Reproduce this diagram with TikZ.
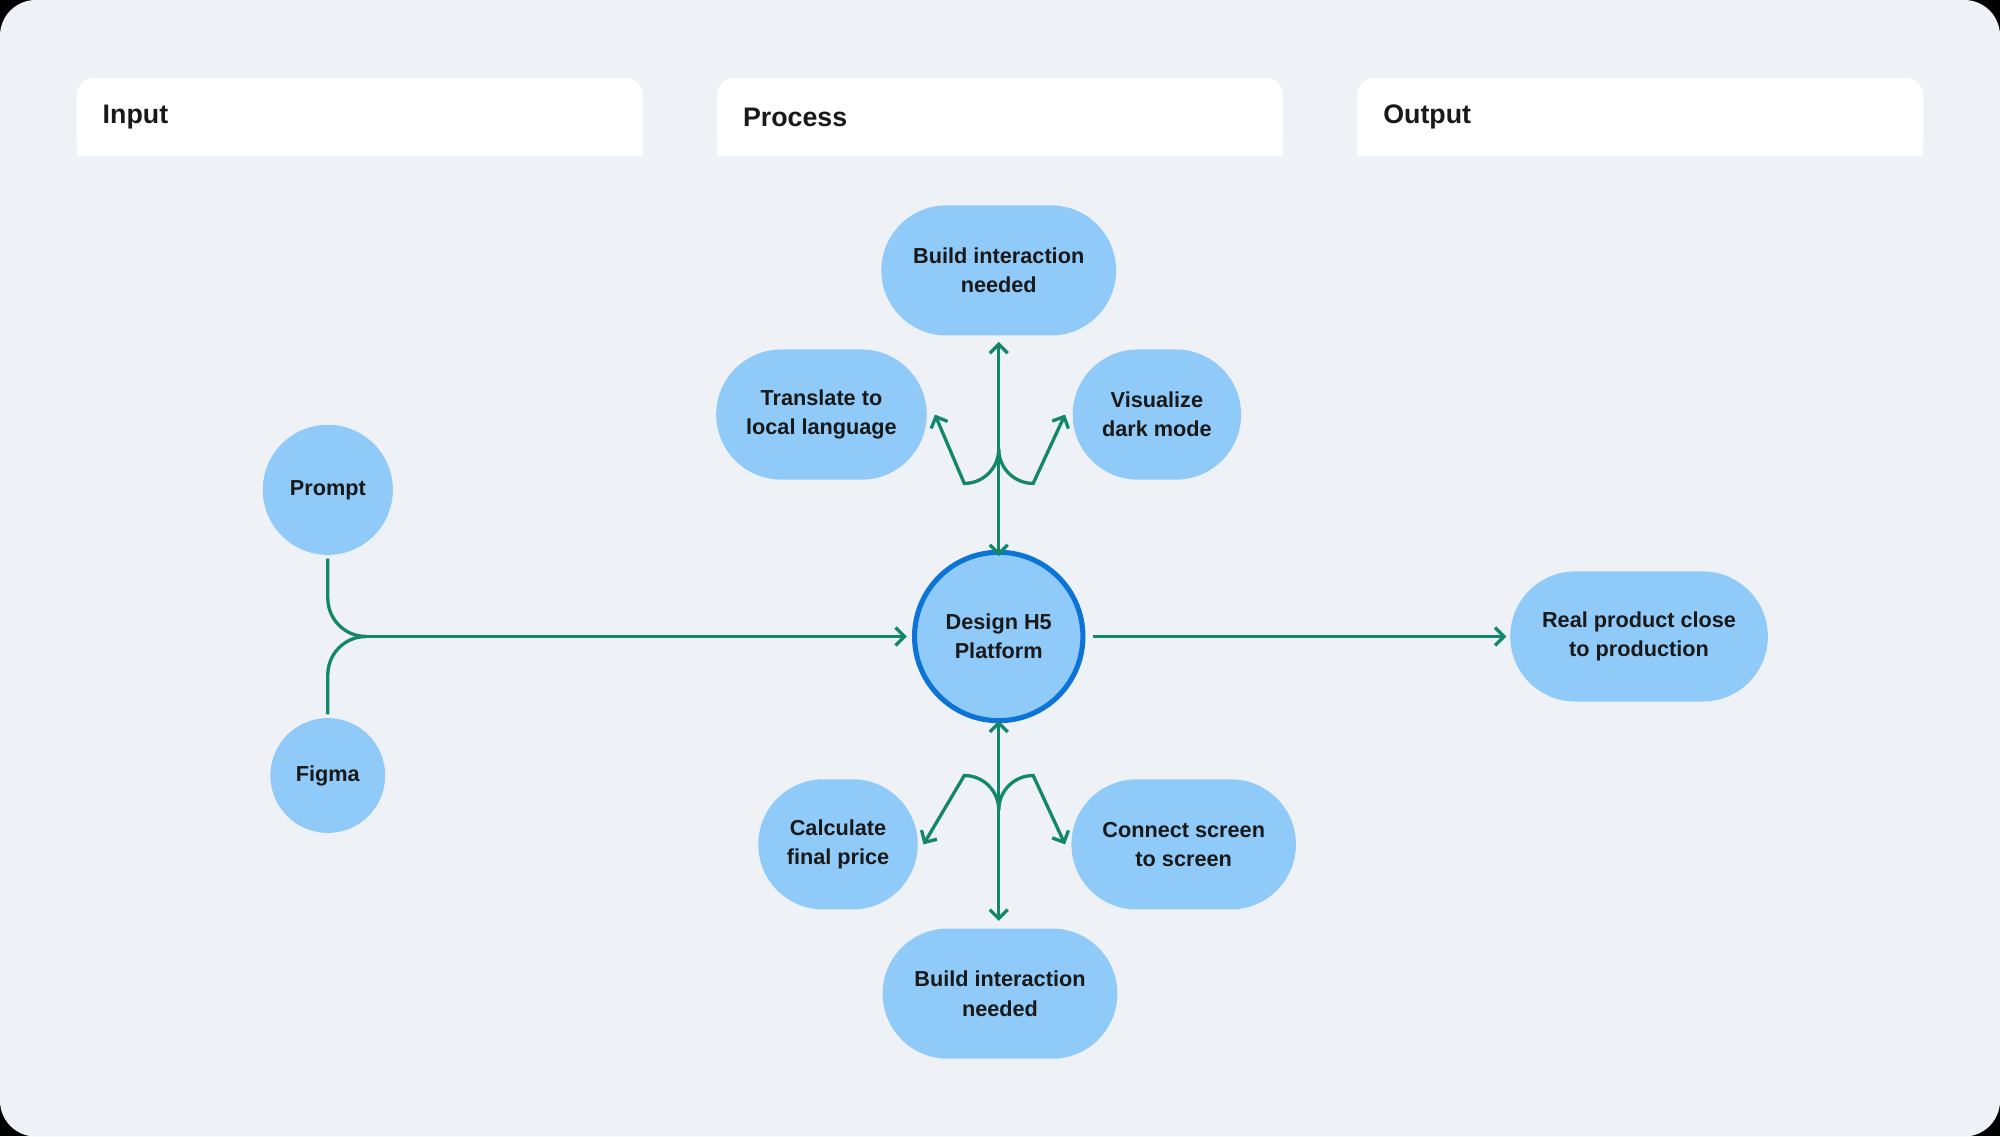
\documentclass[tikz,border=0pt]{standalone}
\usepackage{fontspec}
\setmainfont{Liberation Sans}
\usetikzlibrary{arrows.meta}
\definecolor{bg}{HTML}{EEF2F7}
\definecolor{pill}{HTML}{90CAF9}
\definecolor{grn}{HTML}{12876A}
\definecolor{ring}{HTML}{0B74D6}
\begin{document}
\begin{tikzpicture}[x=1pt,y=-1pt,
  pl/.style={fill=pill,draw=none,rounded corners=51pt,minimum height=102pt,align=center,font=\fontsize{17}{23}\selectfont\bfseries,text=black!90},
  cir/.style={fill=pill,circle,align=center,font=\fontsize{17}{23}\selectfont\bfseries,text=black!90,inner sep=0pt},
  hd/.style={fill=white,rounded corners=14pt},
  ht/.style={anchor=west,font=\fontsize{21}{25}\selectfont\bfseries,text=black!90},
  ar/.style={draw=grn,line width=2.6pt,-{Straight Barb[length=7pt,width=14pt,line width=2.6pt]}},
  ln/.style={draw=grn,line width=2.6pt}]
\useasboundingbox (0,0) rectangle (1568,891);
\fill[black] (0,0) rectangle (1568,891);
\fill[bg,rounded corners=28pt] (0,0) rectangle (1568,891);
\foreach \x/\t/\n in {60/Input/hi,562/Process/hp,1064/Output/ho}{
  \fill[hd] (\x,61) rectangle (\x+444,122);
  \fill[white] (\x,95) rectangle (\x+444,122);
  \node[ht] (\n) at (\x+17,92) {\t};
}
\node[pl,minimum width=184pt] (bt) at (783,212) {Build interaction\\needed};
\node[pl,minimum width=165pt] (tr) at (644,325) {Translate to\\local language};
\node[pl,minimum width=132pt] (vi) at (907,325) {Visualize\\dark mode};
\node[cir,minimum size=102pt] (pr) at (257,384) {Prompt};
\node[cir,minimum size=90pt] (fi) at (257,608) {Figma};
\node[cir,minimum size=132pt,draw=ring,line width=4pt] (de) at (783,499) {Design H5\\Platform};
\node[pl,minimum width=202pt] (re) at (1285,499) {Real product close\\to production};
\node[pl,minimum width=125pt] (ca) at (657,662) {Calculate\\final price};
\node[pl,minimum width=176pt] (co) at (928,662) {Connect screen\\to screen};
\node[pl,minimum width=184pt] (bb) at (784,779) {Build interaction\\needed};
% input
\coordinate (j) at (287,499);
\draw[ln] (257,438) -- (257,469) arc[start angle=180,end angle=90,radius=30];
\draw[ln] (257,560) -- (257,529) arc[start angle=180,end angle=270,radius=30];
\draw[ar] (j) -- (711,499);
\draw[ar] (857,499) -- (1181,499);
% top
\draw[ln,{Straight Barb[length=7pt,width=14pt,line width=2.6pt]}-{Straight Barb[length=7pt,width=14pt,line width=2.6pt]}] (783,268) -- (783,436);
\draw[ar] (783,352) arc[start angle=0,end angle=90,radius=27] -- (733,325);
\draw[ar] (783,352) arc[start angle=180,end angle=90,radius=27] -- (835,325);
% bottom
\draw[ln,{Straight Barb[length=7pt,width=14pt,line width=2.6pt]}-{Straight Barb[length=7pt,width=14pt,line width=2.6pt]}] (783,565) -- (783,722);
\draw[ar] (783,635) arc[start angle=0,end angle=-90,radius=27] -- (724,662);
\draw[ar] (783,635) arc[start angle=180,end angle=270,radius=27] -- (835,662);
\end{tikzpicture}
\end{document}
